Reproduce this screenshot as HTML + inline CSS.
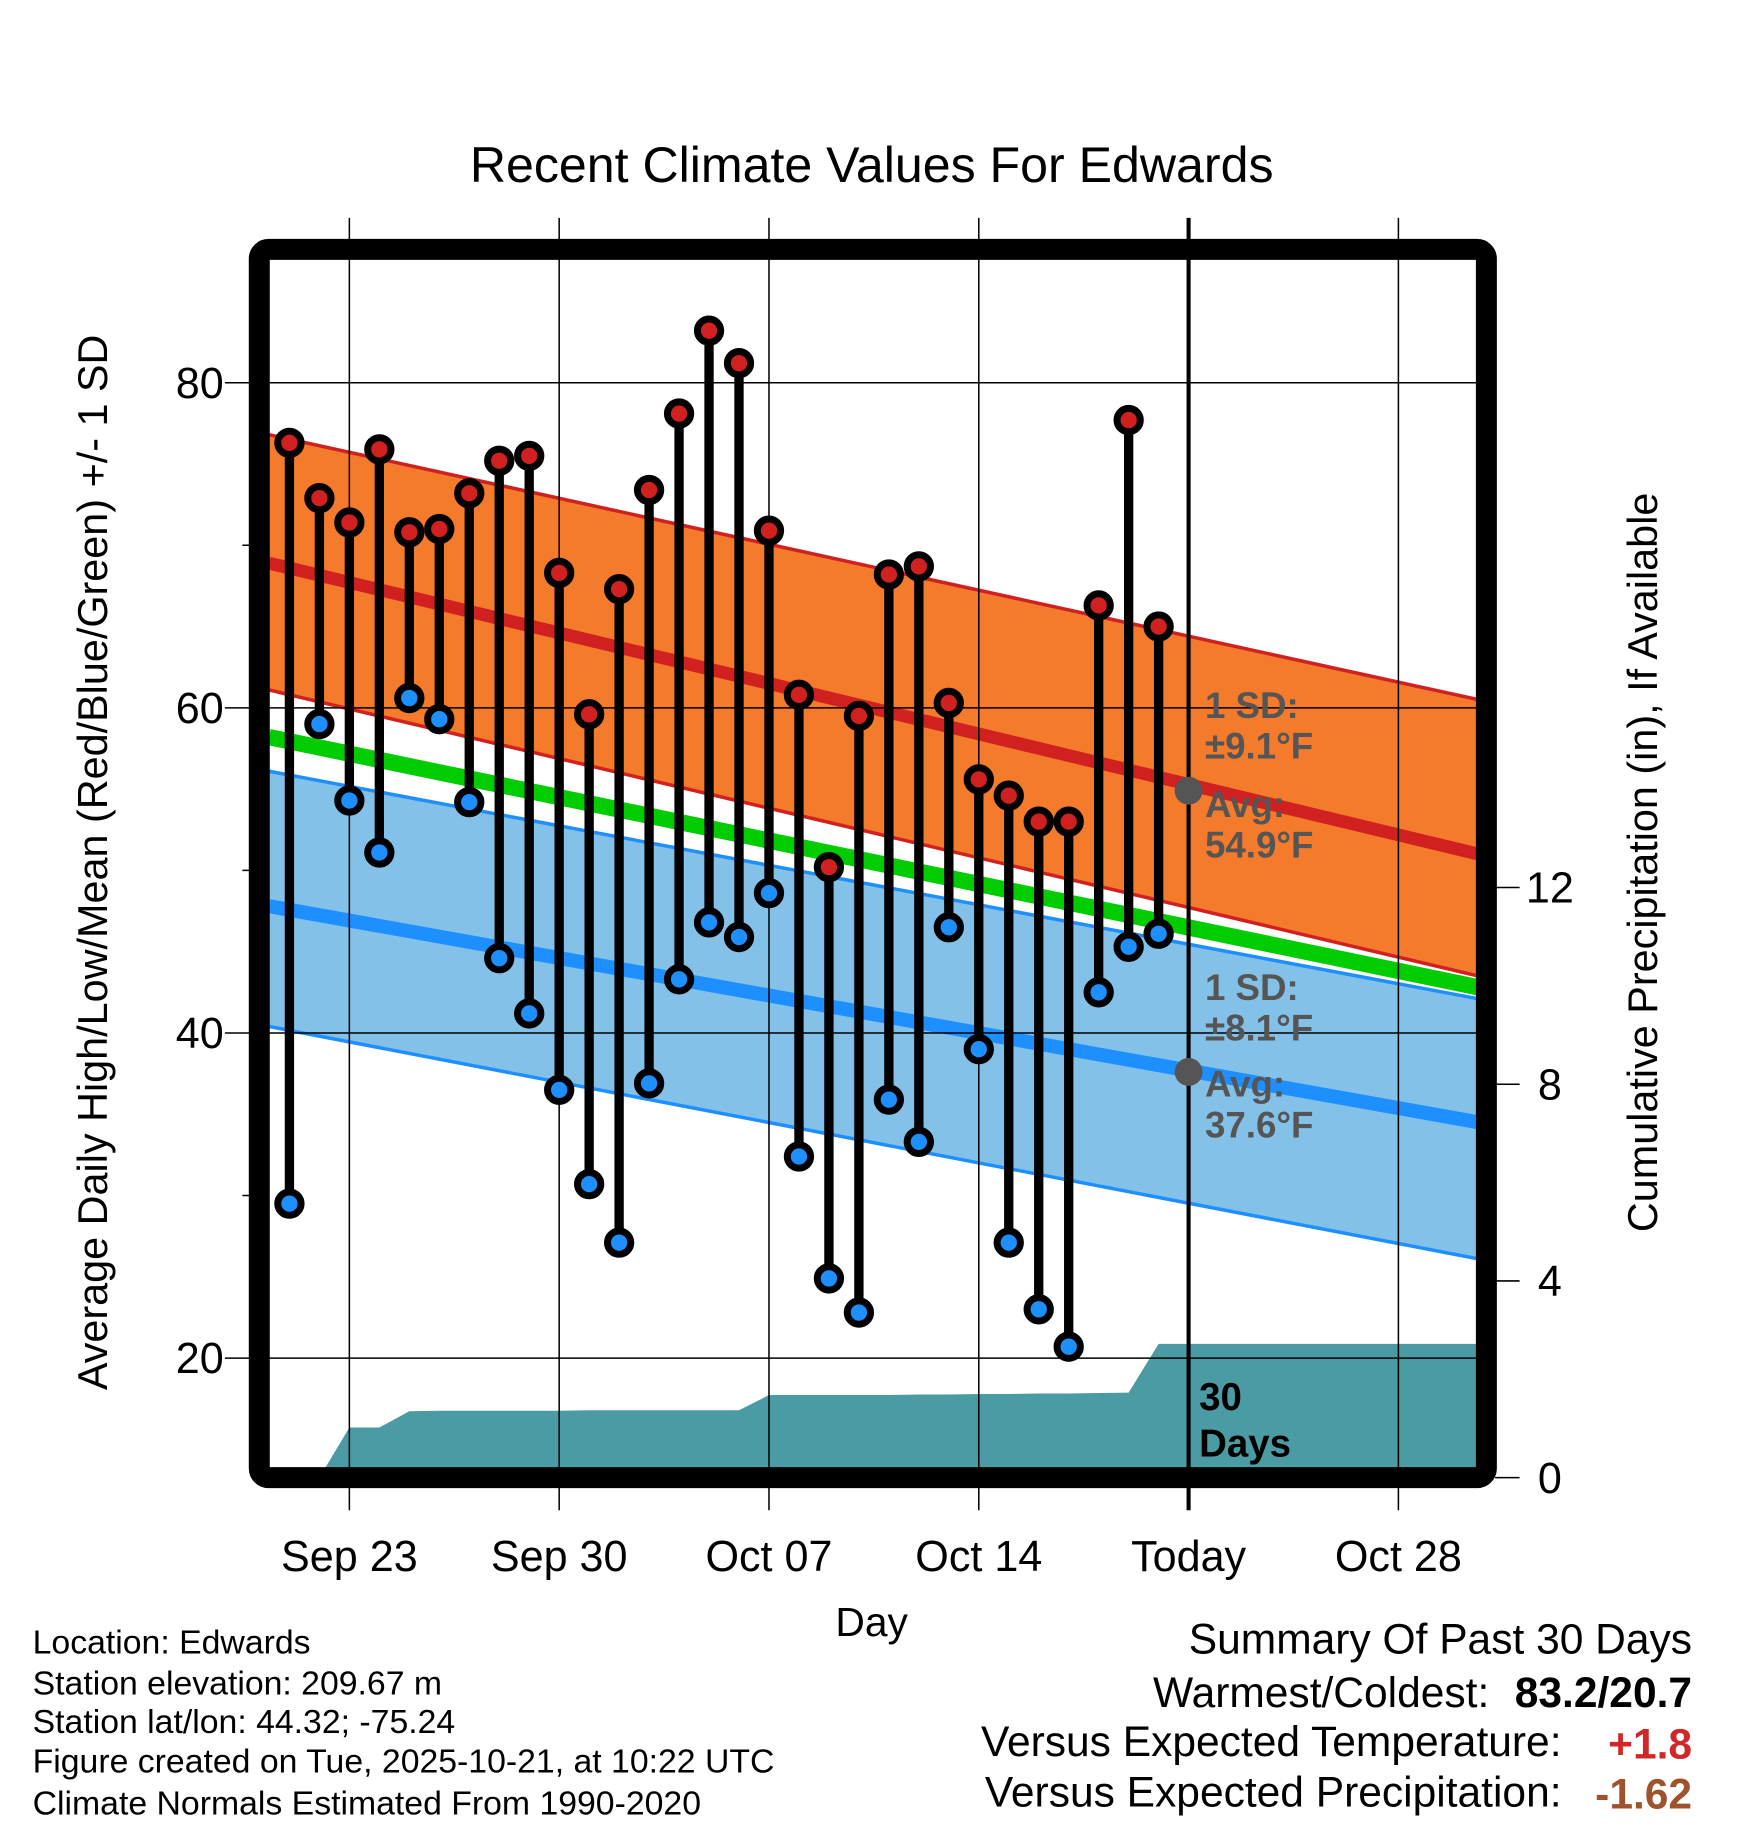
<!DOCTYPE html>
<html><head><meta charset="utf-8"><style>
html,body{margin:0;padding:0;background:#fff;}
svg{display:block;font-family:"Liberation Sans",Arial,sans-serif;}
</style></head><body>
<svg id="chart" width="1748" height="1828" viewBox="0 0 1500 1568.65" xmlns="http://www.w3.org/2000/svg">
<defs><clipPath id="plotclip"><rect x="231" y="223" width="1037" height="1037"/></clipPath></defs>
<text x="748" y="156" font-size="43" text-anchor="middle">Recent Climate Values For Edwards</text>
<g id="bands" clip-path="url(#plotclip)"></g>
<g id="grid"></g>
<g id="marks"></g>
<rect x="222.5" y="214" width="1053" height="1054" rx="8" fill="none" stroke="#000" stroke-width="18"/>
<g id="axes"></g>
<text x="748" y="1404" font-size="35" text-anchor="middle">Day</text>
<text transform="translate(92,740) rotate(-90)" font-size="35.5" text-anchor="middle">Average Daily High/Low/Mean (Red/Blue/Green) +/- 1 SD</text>
<text transform="translate(1422,740) rotate(-90)" font-size="35.5" text-anchor="middle">Cumulative Precipitation (in), If Available</text>
<g font-size="31.5" font-weight="bold" fill="#555">
<text x="1034" y="616">1 SD:</text><text x="1034" y="651">±9.1°F</text>
<text x="1034" y="701">Avg:</text><text x="1034" y="736">54.9°F</text></g>
<g font-size="31.5" font-weight="bold" fill="#555">
<text x="1034" y="858">1 SD:</text><text x="1034" y="893">±8.1°F</text>
<text x="1034" y="941">Avg:</text><text x="1034" y="976">37.6°F</text></g>
<g font-size="33" font-weight="bold" fill="#000">
<text x="1029" y="1210">30</text><text x="1029" y="1250">Days</text></g>
<g font-size="29" fill="#000">
<text x="28" y="1419">Location: Edwards</text>
<text x="28" y="1454">Station elevation: 209.67 m</text>
<text x="28" y="1487">Station lat/lon: 44.32; -75.24</text>
<text x="28" y="1521">Figure created on Tue, 2025-10-21, at 10:22 UTC</text>
<text x="28" y="1557">Climate Normals Estimated From 1990-2020</text></g>
<g font-size="36.5" text-anchor="end">
<text x="1452" y="1419">Summary Of Past 30 Days</text>
<text x="1278" y="1465">Warmest/Coldest:</text>
<text x="1452" y="1465" font-weight="bold">83.2/20.7</text>
<text x="1340" y="1507">Versus Expected Temperature:</text>
<text x="1452" y="1509" font-weight="bold" fill="#d02828">+1.8</text>
<text x="1340" y="1550">Versus Expected Precipitation:</text>
<text x="1452" y="1552" font-weight="bold" fill="#a0522d">-1.62</text></g>
</svg>
<script>
const days = ["Sep 21","Sep 22","Sep 23","Sep 24","Sep 25","Sep 26","Sep 27","Sep 28","Sep 29","Sep 30","Oct 01","Oct 02","Oct 03","Oct 04","Oct 05","Oct 06","Oct 07","Oct 08","Oct 09","Oct 10","Oct 11","Oct 12","Oct 13","Oct 14","Oct 15","Oct 16","Oct 17","Oct 18","Oct 19","Oct 20"];
const highs = [76.3,72.9,71.4,75.9,70.8,71.0,73.2,75.2,75.5,68.3,59.6,67.3,73.4,78.1,83.2,81.2,70.9,60.8,50.2,59.5,68.2,68.7,60.3,55.6,54.6,53.0,53.0,66.3,77.7,65.0];
const lows = [29.5,59.0,54.3,51.1,60.6,59.3,54.2,44.6,41.2,36.5,30.7,27.1,36.9,43.3,46.8,45.9,48.6,32.4,24.9,22.8,35.9,33.3,46.5,39.0,27.1,23.0,20.7,42.5,45.3,46.1];
const precip = [0,0,1.02,1.02,1.35,1.36,1.36,1.36,1.36,1.36,1.37,1.37,1.37,1.37,1.37,1.37,1.68,1.68,1.68,1.68,1.68,1.69,1.69,1.70,1.70,1.71,1.71,1.72,1.73,2.72];
const normDays = [-0.68, 39.67];
const highMean = [68.9, 51.0];
const highUpper = [76.8, 60.5];
const highLower = [61.1, 43.5];
const meanLine = [58.2, 42.8];
const lowMean = [47.8, 34.5];
const lowUpper = [56.1, 42.1];
const lowLower = [40.4, 26.1];
const yTicks = [20,40,60,80];
const yMinor = [30,50,70];
const pTicks = [0,4,8,12];
const xTickDays = [2,9,16,23,30,37];
const xTickLabels = ["Sep 23","Sep 30","Oct 07","Oct 14","Today","Oct 28"];
const todayIdx = 30;
const todayHighAvg = 54.9, todayLowAvg = 37.6;

const NS="http://www.w3.org/2000/svg";
const X = d => 299.8 + (d-2)*25.72;
const Y = v => 328.4 + (80-v)*13.95;
const P = p => 1268 - p*42.2;
function mk(tag, attrs, parent){const e=document.createElementNS(NS,tag);for(const k in attrs)e.setAttribute(k,attrs[k]);parent.appendChild(e);return e;}
const bands=document.getElementById('bands'), grid=document.getElementById('grid'), marks=document.getElementById('marks'), axes=document.getElementById('axes');
function band(up,lo,fill){
  const pts=[[X(normDays[0]),Y(up[0])],[X(normDays[1]),Y(up[1])],[X(normDays[1]),Y(lo[1])],[X(normDays[0]),Y(lo[0])]];
  return mk('polygon',{points:pts.map(p=>p.join(',')).join(' '),fill:fill},bands);
}
function line(v,color,w){return mk('line',{x1:X(normDays[0]),y1:Y(v[0]),x2:X(normDays[1]),y2:Y(v[1]),stroke:color,'stroke-width':w},bands);}
let e;
e=band(lowUpper,lowLower,'#84c1e8');


e=band(highUpper,highLower,'#f47a2c');


e=line(highUpper,'#d02020',3);


e=line(highLower,'#d02020',3);


e=line(lowUpper,'#1e8fff',3);


e=line(lowLower,'#1e8fff',3);


e=line(highMean,'#d02020',11);


e=line(meanLine,'#00cc00',14);


e=line(lowMean,'#1e8fff',12);


let pp=[[X(0),1275]];
precip.forEach((p,i)=>pp.push([X(i),P(p)]));
pp.push([X(normDays[1]),P(precip[precip.length-1])]);pp.push([X(normDays[1]),1275]);
e=mk('polygon',{points:pp.map(p=>p.join(',')).join(' '),fill:'#4a9ba3'},bands);


yTicks.forEach(v=>{
  e=mk('line',{x1:193,y1:Y(v),x2:1268,y2:Y(v),stroke:'#000','stroke-width':1.3},grid);
  
  
  e=mk('text',{x:192,y:Y(v)+13,'font-size':37,'text-anchor':'end'},axes);e.textContent=v;
  
  
});
yMinor.forEach(v=>{
  e=mk('line',{x1:208,y1:Y(v),x2:231,y2:Y(v),stroke:'#000','stroke-width':1.3},axes);
  
  
});
xTickDays.forEach((d,i)=>{
  const today = d===todayIdx;
  e=mk('line',{x1:X(d),y1:187,x2:X(d),y2:1296,stroke:'#000','stroke-width':today?3.5:1.3},grid);
  
  
  e=mk('text',{x:X(d),y:1348,'font-size':37,'text-anchor':'middle'},axes);e.textContent=xTickLabels[i];
  
  
});
pTicks.forEach(p=>{
  e=mk('line',{x1:1283,y1:P(p),x2:1304,y2:P(p),stroke:'#000','stroke-width':1.3},axes);
  
  
  e=mk('text',{x:1330,y:P(p)+13,'font-size':37,'text-anchor':'middle'},axes);e.textContent=p;
  
  
});
days.forEach((d,i)=>{
  const g=mk('g',{},marks);
  
  
  mk('line',{x1:X(i),y1:Y(highs[i]),x2:X(i),y2:Y(lows[i]),stroke:'#000','stroke-width':8},g);
  e=mk('circle',{cx:X(i),cy:Y(highs[i]),r:10,fill:'#d02020',stroke:'#000','stroke-width':6},g);
  
  
  e=mk('circle',{cx:X(i),cy:Y(lows[i]),r:10,fill:'#1e8fff',stroke:'#000','stroke-width':6},g);
  
  
});
e=mk('circle',{cx:X(todayIdx),cy:Y(todayHighAvg),r:12,fill:'#555'},marks);


e=mk('circle',{cx:X(todayIdx),cy:Y(todayLowAvg),r:12,fill:'#555'},marks);


</script>
</body></html>
